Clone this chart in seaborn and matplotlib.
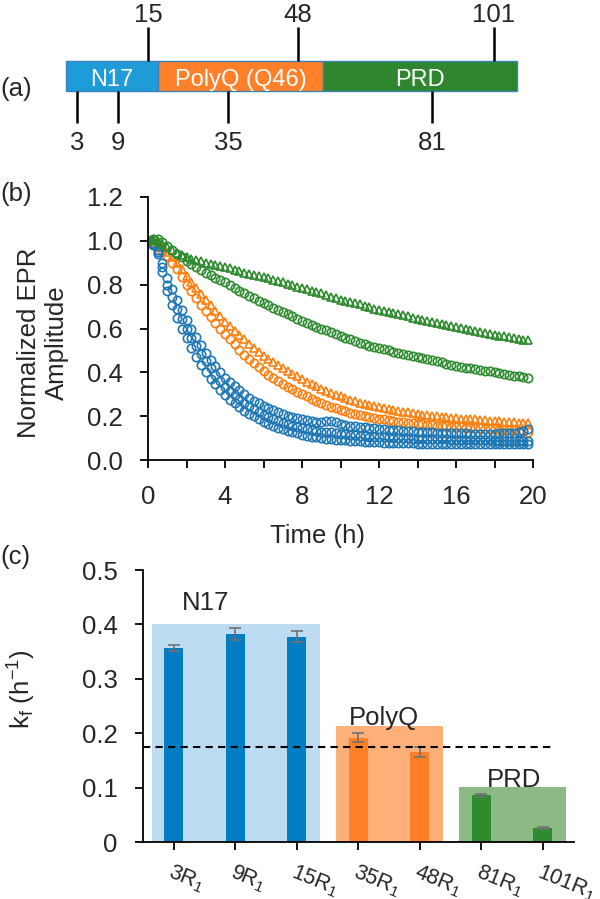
import matplotlib
matplotlib.use("Agg")
import matplotlib.pyplot as plt
from matplotlib.ticker import FormatStrFormatter, MultipleLocator
import numpy as np
import pandas as pd
import seaborn as sns

# ---- (a) domain schematic ----
domain_names = ["N17", "PolyQ (Q46)", "PRD"]
sites_top = ["15", "48", "101"]
sites_bottom = ["3", "9", "35", "81"]

# ---- (b) normalized EPR amplitude, sampled every 15 min ----
time_h = np.arange(0, 20, 0.25)

amp_3 = [1.000, 0.990, 0.960, 0.900, 0.830, 0.778, 0.730, 0.683, 0.640, 0.598,
         0.560, 0.523, 0.490, 0.458, 0.430, 0.401, 0.375, 0.355, 0.336, 0.318,
         0.300, 0.285, 0.270, 0.258, 0.245, 0.236, 0.226, 0.218, 0.210, 0.203,
         0.197, 0.190, 0.185, 0.181, 0.178, 0.174, 0.172, 0.176, 0.180, 0.173,
         0.163, 0.160, 0.157, 0.155, 0.152, 0.150, 0.147, 0.145, 0.142, 0.140,
         0.138, 0.137, 0.135, 0.134, 0.133, 0.131, 0.130, 0.129, 0.128, 0.126,
         0.125, 0.124, 0.124, 0.123, 0.122, 0.121, 0.121, 0.120, 0.120, 0.120,
         0.119, 0.119, 0.120, 0.121, 0.122, 0.123, 0.125, 0.128, 0.133, 0.140]
amp_9 = [1.000, 0.985, 0.950, 0.880, 0.800, 0.742, 0.690, 0.643, 0.600, 0.558,
         0.520, 0.484, 0.450, 0.419, 0.390, 0.361, 0.335, 0.314, 0.295, 0.277,
         0.260, 0.245, 0.231, 0.218, 0.205, 0.196, 0.187, 0.178, 0.170, 0.163,
         0.157, 0.151, 0.145, 0.141, 0.137, 0.134, 0.130, 0.128, 0.126, 0.123,
         0.120, 0.117, 0.115, 0.112, 0.110, 0.109, 0.107, 0.106, 0.105, 0.104,
         0.103, 0.101, 0.100, 0.099, 0.099, 0.098, 0.097, 0.097, 0.096, 0.096,
         0.095, 0.094, 0.094, 0.093, 0.092, 0.092, 0.091, 0.091, 0.090, 0.090,
         0.089, 0.089, 0.088, 0.088, 0.088, 0.087, 0.087, 0.087, 0.086, 0.086]
amp_15 = [1.000, 0.980, 0.940, 0.860, 0.770, 0.705, 0.650, 0.600, 0.555, 0.510,
          0.470, 0.433, 0.400, 0.371, 0.345, 0.319, 0.295, 0.276, 0.258, 0.241,
          0.225, 0.211, 0.199, 0.187, 0.175, 0.166, 0.157, 0.148, 0.140, 0.133,
          0.127, 0.121, 0.115, 0.111, 0.107, 0.104, 0.100, 0.098, 0.095, 0.092,
          0.090, 0.089, 0.088, 0.086, 0.085, 0.084, 0.083, 0.081, 0.080, 0.079,
          0.079, 0.078, 0.077, 0.077, 0.076, 0.076, 0.075, 0.075, 0.075, 0.074,
          0.074, 0.074, 0.073, 0.073, 0.073, 0.073, 0.072, 0.072, 0.072, 0.072,
          0.072, 0.072, 0.072, 0.072, 0.072, 0.073, 0.073, 0.074, 0.074, 0.075]
amp_35 = [1.000, 0.990, 0.975, 0.955, 0.930, 0.901, 0.870, 0.836, 0.800, 0.769,
          0.739, 0.709, 0.680, 0.653, 0.626, 0.600, 0.575, 0.551, 0.527, 0.503,
          0.480, 0.460, 0.441, 0.423, 0.405, 0.390, 0.374, 0.359, 0.345, 0.333,
          0.322, 0.311, 0.300, 0.290, 0.280, 0.270, 0.260, 0.252, 0.244, 0.236,
          0.228, 0.222, 0.216, 0.210, 0.205, 0.200, 0.196, 0.192, 0.188, 0.185,
          0.181, 0.178, 0.175, 0.172, 0.170, 0.167, 0.165, 0.163, 0.161, 0.159,
          0.157, 0.155, 0.153, 0.152, 0.150, 0.149, 0.148, 0.146, 0.145, 0.144,
          0.143, 0.141, 0.140, 0.139, 0.138, 0.136, 0.135, 0.134, 0.132, 0.130]
amp_48 = [1.000, 0.995, 0.985, 0.970, 0.950, 0.926, 0.900, 0.871, 0.840, 0.812,
          0.784, 0.757, 0.730, 0.705, 0.680, 0.655, 0.630, 0.610, 0.590, 0.570,
          0.550, 0.531, 0.512, 0.493, 0.475, 0.461, 0.447, 0.433, 0.420, 0.407,
          0.394, 0.382, 0.370, 0.358, 0.347, 0.336, 0.325, 0.316, 0.307, 0.298,
          0.290, 0.282, 0.275, 0.267, 0.260, 0.255, 0.250, 0.245, 0.240, 0.236,
          0.232, 0.229, 0.225, 0.221, 0.218, 0.214, 0.210, 0.207, 0.205, 0.202,
          0.200, 0.197, 0.195, 0.192, 0.190, 0.189, 0.188, 0.186, 0.185, 0.183,
          0.181, 0.180, 0.178, 0.176, 0.175, 0.173, 0.172, 0.170, 0.169, 0.168]
amp_81 = [1.000, 1.008, 1.010, 0.995, 0.975, 0.958, 0.942, 0.926, 0.910, 0.896,
          0.882, 0.868, 0.855, 0.843, 0.832, 0.821, 0.810, 0.797, 0.785, 0.772,
          0.760, 0.749, 0.737, 0.726, 0.715, 0.705, 0.695, 0.685, 0.675, 0.665,
          0.655, 0.645, 0.635, 0.626, 0.617, 0.609, 0.600, 0.591, 0.582, 0.574,
          0.565, 0.557, 0.550, 0.542, 0.535, 0.529, 0.522, 0.516, 0.510, 0.505,
          0.500, 0.495, 0.490, 0.485, 0.480, 0.475, 0.470, 0.465, 0.460, 0.455,
          0.450, 0.445, 0.440, 0.435, 0.430, 0.426, 0.422, 0.419, 0.415, 0.411,
          0.407, 0.404, 0.400, 0.396, 0.392, 0.389, 0.385, 0.381, 0.377, 0.372]
amp_101 = [1.000, 1.005, 0.998, 0.985, 0.970, 0.958, 0.946, 0.935, 0.925, 0.918,
           0.912, 0.906, 0.900, 0.895, 0.890, 0.885, 0.880, 0.874, 0.868, 0.861,
           0.855, 0.850, 0.845, 0.840, 0.835, 0.829, 0.823, 0.816, 0.810, 0.804,
           0.798, 0.791, 0.785, 0.779, 0.773, 0.766, 0.760, 0.752, 0.745, 0.737,
           0.730, 0.725, 0.720, 0.715, 0.710, 0.704, 0.698, 0.691, 0.685, 0.680,
           0.675, 0.670, 0.665, 0.660, 0.655, 0.650, 0.645, 0.640, 0.635, 0.630,
           0.625, 0.620, 0.615, 0.610, 0.605, 0.601, 0.597, 0.594, 0.590, 0.585,
           0.581, 0.576, 0.572, 0.568, 0.564, 0.561, 0.557, 0.553, 0.549, 0.546]

# ---- (c) fitted rate constants ----
mutants = ["3R1", "9R1", "15R1", "35R1", "48R1", "81R1", "101R1"]
kf = [0.357, 0.382, 0.377, 0.192, 0.165, 0.086, 0.026]
kf_err = [0.006, 0.011, 0.010, 0.009, 0.009, 0.003, 0.002]
region_names = ["N17", "PolyQ", "PRD"]
region_first = [0, 3, 5]
region_last = [2, 4, 6]
region_kf = [0.400, 0.213, 0.101]
kf_reference = 0.175

# colours
BLUE, ORANGE, GREEN = "#1f77b4", "#ff7f0e", "#2e8a2e"
box_colors = ["#1f9bd7", "#ff8029", "#2e862f"]
bar_colors = ["#007dc4"] * 3 + ["#ff7f27"] * 2 + ["#2e8b2e"] * 2
shade_colors = ["#bddcf2", "#ffaf78", "#8cba85"]

sns.set_style("ticks")
plt.rcParams["font.family"] = ["Liberation Sans", "DejaVu Sans"]
plt.rcParams["mathtext.fontset"] = "custom"
plt.rcParams["mathtext.rm"] = "Liberation Sans"
plt.rcParams["mathtext.it"] = "Liberation Sans:italic"
FS = 18.5

W, H = 600, 899
fig = plt.figure(figsize=(W / 100, H / 100), dpi=100)

# ================= (a) =================
# full-figure overlay in pixel units for the schematic and panel letters
ax_a = fig.add_axes([0, 0, 1, 1], zorder=-1)
ax_a.set_xlim(0, W)
ax_a.set_ylim(H, 0)
ax_a.axis("off")
edges = [66, 158, 323, 517]
for name, col, x0, x1 in zip(domain_names, box_colors, edges[:-1], edges[1:]):
    ax_a.barh(76, x1 - x0, left=x0, height=30, color=col, edgecolor="#3b82bd", linewidth=1)
    ax_a.text((x0 + x1) / 2, 86, name, color="white", ha="center", va="baseline", fontsize=17)
top_pos = [148, 298, 494]
bot_pos = [77, 118, 228, 432]
ax_a.vlines(top_pos, 27, 61, color="black", lw=1.8)
ax_a.vlines(bot_pos, 91, 123, color="black", lw=1.8)
for lab, x in zip(sites_top, top_pos):
    ax_a.text(x, 21.5, lab, ha="center", va="baseline", fontsize=FS)
for lab, x in zip(sites_bottom, bot_pos):
    ax_a.text(x, 150, lab, ha="center", va="baseline", fontsize=FS)
ax_a.text(0, 96, "(a)", ha="left", va="baseline", fontsize=FS)
ax_a.text(0, 201, "(b)", ha="left", va="baseline", fontsize=FS)
ax_a.text(0, 564, "(c)", ha="left", va="baseline", fontsize=FS)

# ================= (b) =================
ax_b = fig.add_axes([148 / W, (H - 460) / H, 385 / W, 263 / H])
series = [
    (amp_35, ORANGE, "o"), (amp_48, ORANGE, "^"),
    (amp_3, BLUE, "o"), (amp_9, BLUE, "o"), (amp_15, BLUE, "o"),
    (amp_81, GREEN, "o"), (amp_101, GREEN, "^"),
]
for vals, col, mk in series:
    sns.lineplot(x=time_h, y=vals, ax=ax_b, color=col, marker=mk, linestyle="",
                 markersize=6, markerfacecolor="none", markeredgecolor=col,
                 markeredgewidth=1.2, legend=False, sort=False)
ax_b.set_xlim(0, 20)
ax_b.set_ylim(0, 1.2)
ax_b.xaxis.set_major_locator(MultipleLocator(4))
ax_b.xaxis.set_minor_locator(MultipleLocator(2))
ax_b.yaxis.set_major_locator(MultipleLocator(0.2))
ax_b.yaxis.set_major_formatter(FormatStrFormatter("%.1f"))
ax_b.tick_params(which="both", direction="out", length=5.8, width=1.3, labelsize=FS,
                 color="black", pad=12.5)
ax_b.set_xlabel("Time (h)", fontsize=FS)
ax_b.xaxis.label.set_va("baseline")
ax_b.xaxis.set_label_coords(0.44, (460 - 543) / 263)
ax_b.set_ylabel("Normalized EPR\nAmplitude", fontsize=FS)
ax_b.yaxis.set_label_coords(-0.205, 0.445)
sns.despine(ax=ax_b)
for s in ("left", "bottom"):
    ax_b.spines[s].set_linewidth(1.3)
    ax_b.spines[s].set_color("black")

# ================= (c) =================
ax_c = fig.add_axes([143 / W, (H - 842) / H, 430.5 / W, 272 / H])
for i0, i1, lvl, col in zip(region_first, region_last, region_kf, shade_colors):
    ax_c.bar(i0 - 0.36, lvl, width=(i1 - i0) + 0.73, align="edge", color=col,
             linewidth=0, zorder=0)
df_c = pd.DataFrame({"mutant": mutants, "kf": kf})
sns.barplot(data=df_c, x="mutant", y="kf", hue="mutant", palette=bar_colors,
            saturation=1, width=0.31, linewidth=0, legend=False, ax=ax_c,
            errorbar=None, zorder=2)
ax_c.errorbar(np.arange(len(mutants)), kf, yerr=kf_err, fmt="none", ecolor="#707070",
              elinewidth=1.2, capsize=4, capthick=1.2, zorder=3)
ax_c.axhline(kf_reference, xmin=0, xmax=0.955, color="black", lw=1.5,
             ls=(0, (3.5, 2.5)), zorder=4)
label_x = [0.52, 3.41, 5.54]
label_dy = [0.026, 0.002, 0.001]
for name, x, lvl, dy in zip(region_names, label_x, region_kf, label_dy):
    ax_c.text(x, lvl + dy, name, ha="center", va="baseline", fontsize=FS)
ax_c.set_xlim(-0.5, 6.5)
ax_c.set_ylim(0, 0.5)
ax_c.set_yticks([0, 0.1, 0.2, 0.3, 0.4, 0.5])
ax_c.set_yticklabels(["0", "0.1", "0.2", "0.3", "0.4", "0.5"])
ax_c.set_xticks(range(len(mutants)))
ax_c.set_xticklabels([f"{m[:-2]}R$_\\mathregular{{1}}$" for m in mutants], rotation=-22,
                     ha="left", va="top", rotation_mode="anchor")
ax_c.tick_params(direction="out", length=5.8, width=1.3, labelsize=FS, color="black", pad=12.5)
ax_c.tick_params(axis="x", pad=8, labelsize=15.5)
ax_c.set_xlabel("")
ax_c.set_ylabel("k$_\\mathregular{f}$ (h$^\\mathregular{-1}$)", fontsize=FS)
ax_c.yaxis.set_label_coords(-0.244, 0.56)
sns.despine(ax=ax_c)
for s in ("left", "bottom"):
    ax_c.spines[s].set_linewidth(1.3)
    ax_c.spines[s].set_color("black")

fig.savefig("out.png", dpi=100)
